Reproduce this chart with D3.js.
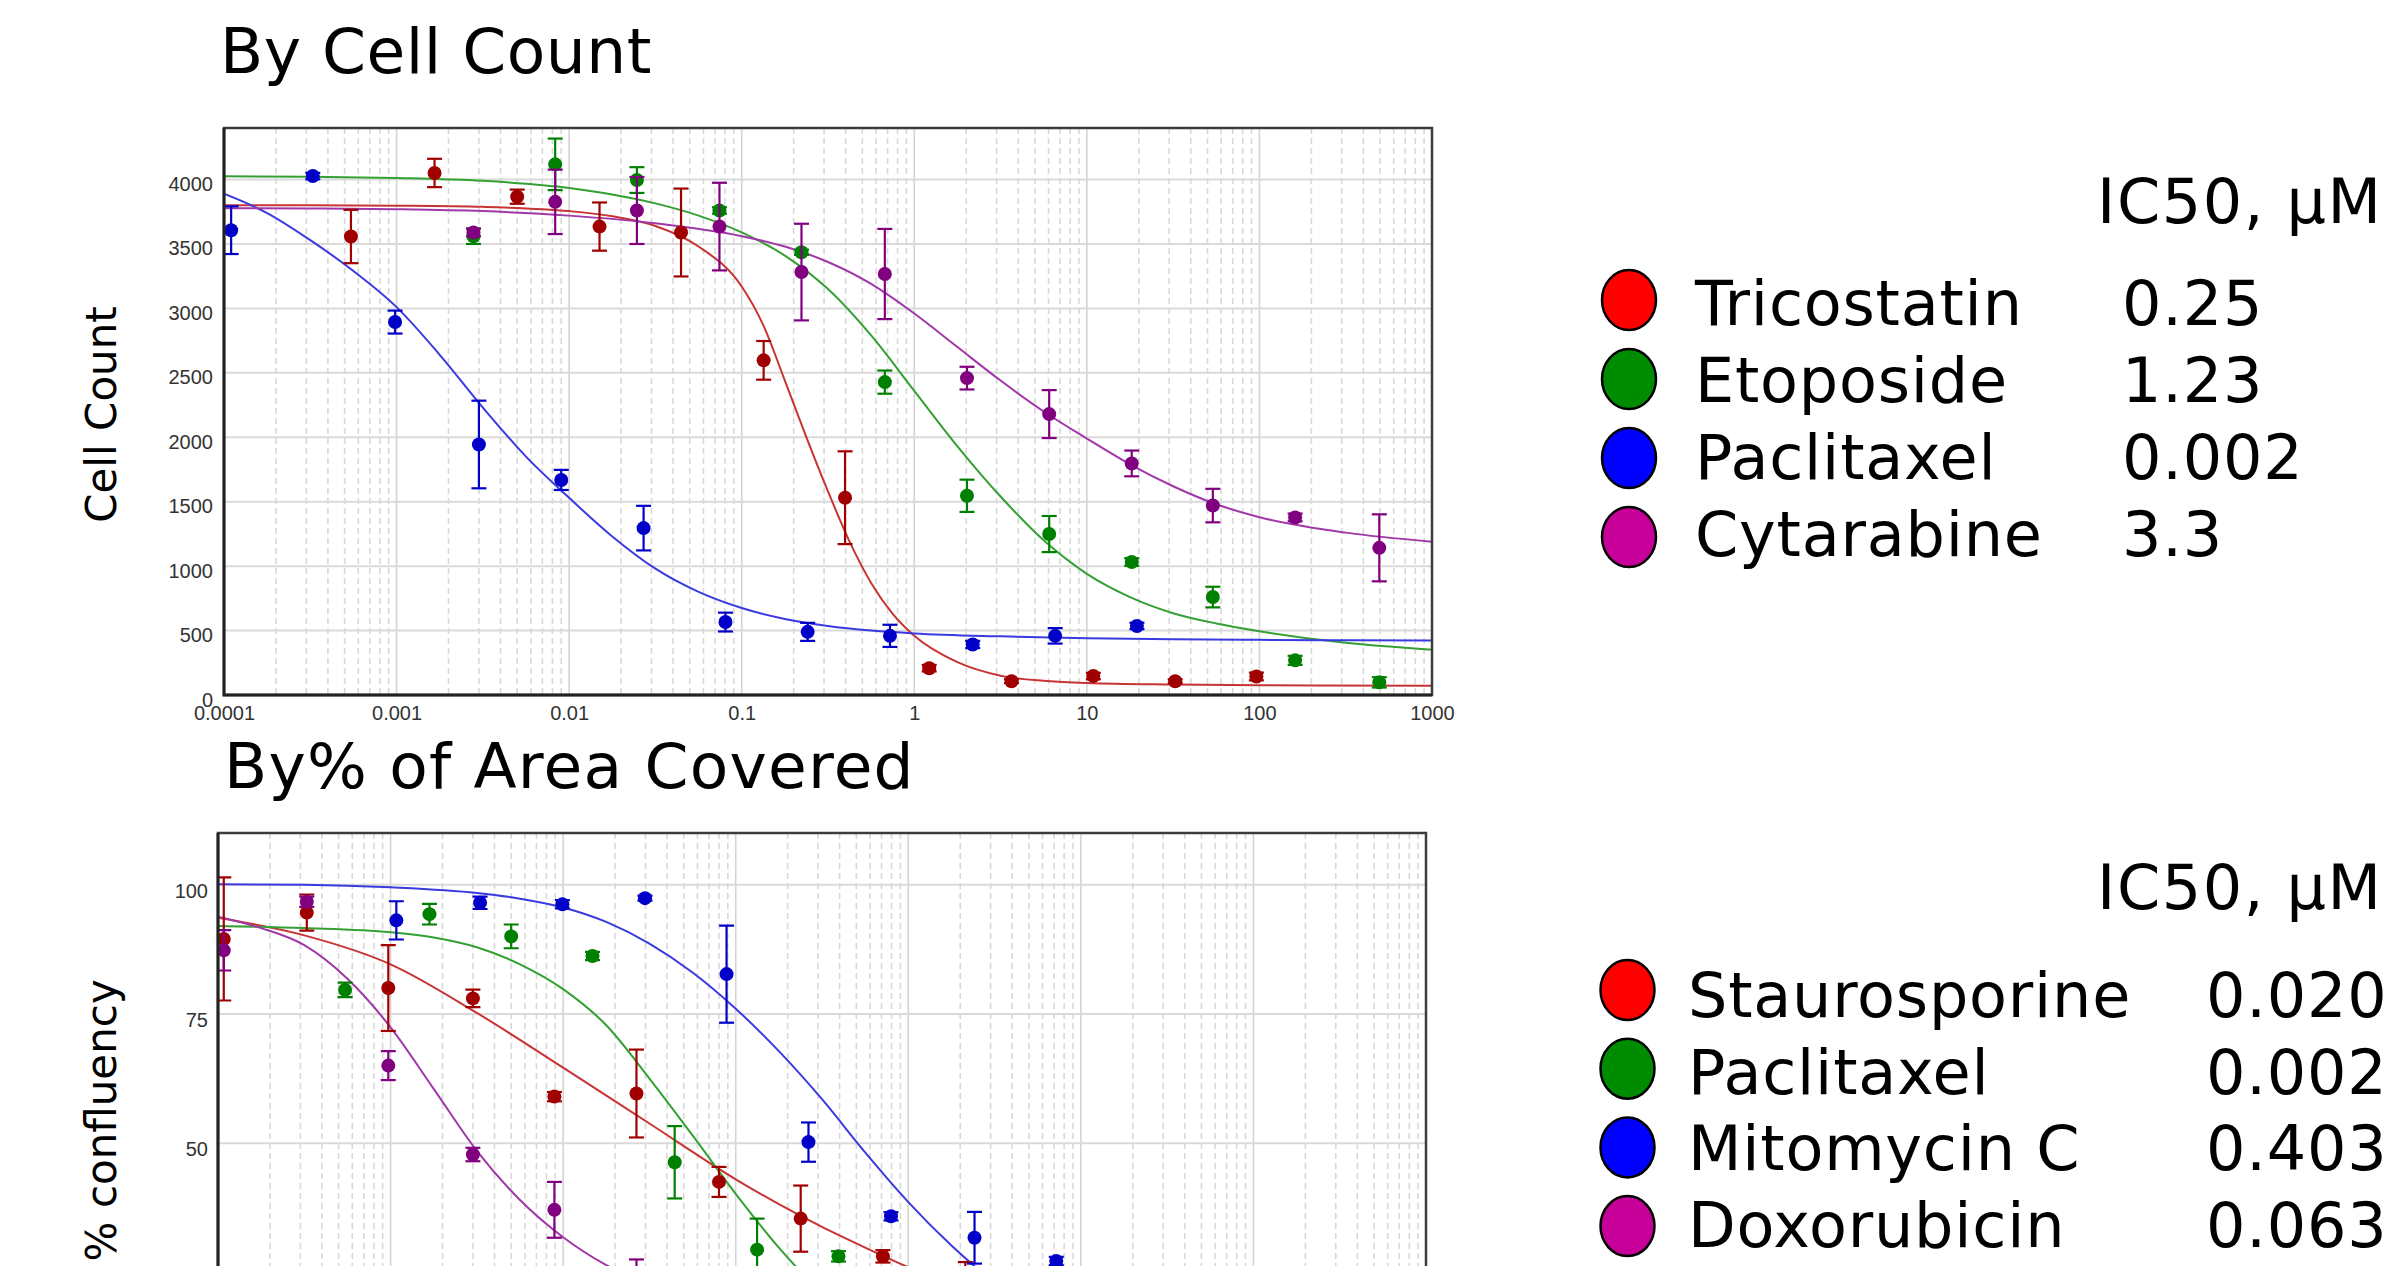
<!DOCTYPE html>
<html><head><meta charset="utf-8">
<script src="https://cdn.jsdelivr.net/npm/d3@7"></script>
<style>html,body{margin:0;padding:0;background:#fff;} svg{display:block}</style>
</head><body>
<svg id="c" width="2388" height="1266"></svg>
<script>
// ---------- shared ----------
const xTickValues = [1e-4, 1e-3, 1e-2, 1e-1, 1, 10, 100, 1000];
const xTickLabels = ["0.0001", "0.001", "0.01", "0.1", "1", "10", "100", "1000"];

// ---------- panel 1 : By Cell Count ----------
const cellTitle = "By Cell Count";
const cellAxisTitle = "Cell Count";
const cellTicks = [0, 500, 1000, 1500, 2000, 2500, 3000, 3500, 4000];
const cellDrugs = ["Tricostatin", "Etoposide", "Paclitaxel", "Cytarabine"];
const cellIC50 = ["0.25", "1.23", "0.002", "3.3"];

const tricDose = [5.44e-4, 1.66e-3, 5e-3, 0.015, 0.0445, 0.134, 0.397, 1.22, 3.66, 10.9, 32.5, 96];
const tricVal  = [3558, 4051, 3867, 3635, 3589, 2597, 1531, 208, 107, 147, 107, 144];
const tricErr  = [207, 110, 55, 187, 341, 150, 360, 25, 15, 25, 15, 30];
const tricFitLog = [-4,-3.5,-3,-2.5,-2,-1.75,-1.5,-1.25,-1,-0.875,-0.75,-0.625,-0.5,-0.375,-0.25,-0.125,0,0.25,0.5,0.75,1,1.5,2,3];
const tricFitVal = [3800,3800,3797,3788,3755,3715,3640,3480,3170,2870,2440,2000,1580,1190,870,630,460,255,150,110,94,82,76,72];

const etoDose = [0.00279, 0.0083, 0.0247, 0.0743, 0.222, 0.675, 2.02, 6.05, 18.2, 53.7, 161, 495];
const etoVal  = [3560, 4118, 3996, 3760, 3436, 2428, 1546, 1249, 1032, 760, 269, 98];
const etoErr  = [60, 200, 100, 25, 20, 90, 125, 140, 30, 80, 35, 40];
const etoFitLog = [-4,-3.5,-3,-2.5,-2,-1.5,-1.25,-1,-0.75,-0.5,-0.25,0,0.25,0.5,0.75,1,1.25,1.5,1.75,2,2.5,3];
const etoFitVal = [4025,4022,4012,3990,3935,3815,3720,3590,3410,3150,2790,2360,1930,1540,1200,940,760,635,555,495,405,352];

const pacDose = [1.1e-4, 3.27e-4, 9.8e-4, 0.003, 0.009, 0.027, 0.0805, 0.241, 0.723, 2.18, 6.55, 19.5];
const pacVal  = [3607, 4027, 2894, 1944, 1669, 1295, 566, 490, 459, 392, 459, 536];
const pacErr  = [185, 25, 89, 340, 78, 173, 73, 70, 86, 28, 60, 25];
const pacFitLog = [-4,-3.75,-3.5,-3.25,-3,-2.75,-2.5,-2.25,-2,-1.75,-1.5,-1.25,-1,-0.75,-0.5,-0.25,0,0.5,1,1.5,2,2.5,3];
const pacFitVal = [3890,3740,3530,3290,3010,2640,2230,1850,1530,1230,980,800,675,590,535,500,478,455,440,432,428,425,423];

const cytDose = [0.00279, 0.0083, 0.0247, 0.0743, 0.222, 0.675, 2.02, 6.05, 18.2, 53.7, 161, 495];
const cytVal  = [3589, 3827, 3760, 3635, 3282, 3267, 2459, 2180, 1797, 1470, 1378, 1142];
const cytErr  = [30, 250, 260, 340, 375, 350, 88, 186, 100, 130, 30, 260];
const cytFitLog = [-4,-3.5,-3,-2.5,-2,-1.5,-1,-0.75,-0.5,-0.25,0,0.25,0.5,0.75,1,1.25,1.5,1.75,2,2.5,3];
const cytFitVal = [3778,3776,3770,3755,3720,3660,3560,3480,3360,3190,2960,2700,2440,2200,1990,1790,1620,1480,1380,1260,1190];

// ---------- panel 2 : By % of Area Covered ----------
const areaTitle = "By% of Area Covered";
const areaAxisTitle = "% confluency";
const areaTicks = [0, 25, 50, 75, 100];
const areaDrugs = ["Staurosporine", "Paclitaxel", "Mitomycin C", "Doxorubicin"];
const areaIC50 = ["0.020", "0.002", "0.403", "0.063"];

const stauDose = [1.08e-4, 3.27e-4, 9.7e-4, 0.003, 0.0089, 0.0266, 0.08, 0.238, 0.713, 2.14];
const stauVal  = [89.5, 94.6, 80.0, 78.0, 59.0, 59.6, 42.5, 35.4, 28.1, 22.0];
const stauErr  = [11.9, 3.5, 8.3, 1.7, 0.9, 8.5, 2.9, 6.4, 1.2, 5.0];
const stauFitLog = [-4,-3.5,-3,-2.5,-2,-1.5,-1,-0.75,-0.5,-0.25,0,0.5,1,1.5,2,3];
const stauFitVal = [93.6,90.2,84.6,75.2,64.6,53.8,43.0,38.2,33.8,29.8,26.0,19.5,14.8,11.8,9.8,7.8];

const ptxDose = [5.45e-4, 1.68e-3, 0.005, 0.0148, 0.0443, 0.133, 0.394];
const ptxVal  = [79.65, 94.3, 90.0, 86.2, 46.3, 29.4, 28.1];
const ptxErr  = [1.4, 2.0, 2.3, 0.8, 7.0, 6.0, 1.0];
const ptxFitLog = [-4,-3.5,-3,-2.75,-2.5,-2.25,-2,-1.75,-1.5,-1.25,-1,-0.75,-0.5,-0.25,0,0.5,1,2,3];
const ptxFitVal = [92.0,91.6,90.8,89.8,87.9,84.6,79.8,72.8,62.5,51.5,40.2,29.8,21.0,14.5,10.0,5.5,3.5,2.5,2.2];

const mitoDose = [1.08e-3, 0.0033, 0.0099, 0.0298, 0.0885, 0.264, 0.794, 2.42, 7.2];
const mitoVal  = [93.1, 96.5, 96.2, 97.4, 82.7, 50.2, 35.85, 31.7, 27.2];
const mitoErr  = [3.7, 1.2, 0.8, 0.5, 9.4, 3.8, 0.8, 5.0, 0.8];
const mitoFitLog = [-4,-3.5,-3,-2.5,-2.25,-2,-1.75,-1.5,-1.25,-1,-0.75,-0.5,-0.25,0,0.25,0.5,0.75,1,1.5,2,3];
const mitoFitVal = [100.1,100.0,99.5,98.4,97.3,95.6,92.8,88.6,83.0,76.0,67.8,58.5,48.2,38.6,30.2,23.0,17.2,12.8,7.8,5.6,4.5];

const doxDose = [1.08e-4, 3.27e-4, 9.7e-4, 0.003, 0.0089, 0.0266];
const doxVal  = [87.3, 96.7, 65.0, 47.8, 37.1, 22.0];
const doxErr  = [3.9, 1.0, 2.8, 1.3, 5.4, 5.5];
const doxFitLog = [-4,-3.75,-3.5,-3.25,-3,-2.75,-2.5,-2.25,-2,-1.75,-1.5,-1.25,-1,-0.5,0,1,2,3];
const doxFitVal = [93.8,91.6,88.3,81.8,72.4,60.5,48.5,39.0,31.8,26.4,22.5,19.8,17.8,15.2,13.8,12.6,12.2,12.0];

// ---------- styles ----------
const markerColors = ["#a00000", "#008000", "#0000c8", "#800080"];
const lineColors   = ["#c83434", "#34a034", "#3a3ae0", "#a038a8"];
const legendColors = ["#ff0000", "#008c00", "#0000ff", "#c8009a"];
const TEXT_FONT = "'DejaVu Sans', Verdana, sans-serif";
const TICK_FONT = "'Liberation Sans', Arial, sans-serif";

const svg = d3.select("#c");

function drawPanel(o) {
  const g = svg.append("g");
  const x = d3.scaleLog().domain([1e-4, 1e3]).range([o.left, o.right]);
  const y = d3.scaleLinear().domain([0, o.yMax]).range([o.yZero, o.top]);
  const id = "clip" + o.key;
  svg.append("defs").append("clipPath").attr("id", id)
    .append("rect").attr("x", o.left).attr("y", o.top)
    .attr("width", o.right - o.left).attr("height", o.yZero - o.top);

  const isMajor = d => Math.abs(Math.log10(d) - Math.round(Math.log10(d))) < 1e-9;
  // vertical grid
  g.append("g").selectAll("line").data(x.ticks()).join("line")
    .attr("x1", d => x(d)).attr("x2", d => x(d))
    .attr("y1", o.top).attr("y2", o.yZero)
    .attr("stroke", d => isMajor(d) ? "#d4d4d4" : "#d8d8d8")
    .attr("stroke-width", 1.6)
    .attr("stroke-dasharray", d => isMajor(d) ? null : "6,4");
  // horizontal grid
  g.append("g").selectAll("line").data(o.ticks).join("line")
    .attr("x1", o.left).attr("x2", o.right)
    .attr("y1", d => y(d)).attr("y2", d => y(d))
    .attr("stroke", "#dadada").attr("stroke-width", 2);

  // fitted curves
  const line = d3.line().x(d => x(Math.pow(10, d[0]))).y(d => y(d[1])).curve(d3.curveMonotoneX);
  const cg = g.append("g").attr("clip-path", `url(#${id})`);
  o.series.forEach((s, i) => {
    cg.append("path").datum(d3.zip(s.fitLog, s.fitVal))
      .attr("d", line).attr("fill", "none")
      .attr("stroke", lineColors[i]).attr("stroke-width", 2);
  });

  // points + error bars
  o.series.forEach((s, i) => {
    const pts = d3.zip(s.dose, s.val, s.err);
    const sg = cg.append("g").attr("stroke", markerColors[i]).attr("fill", markerColors[i]);
    sg.selectAll("line.eb").data(pts).join("line").attr("class", "eb")
      .attr("x1", d => x(d[0])).attr("x2", d => x(d[0]))
      .attr("y1", d => y(d[1] - d[2])).attr("y2", d => y(d[1] + d[2]))
      .attr("stroke-width", 2.2);
    sg.selectAll("line.ct").data(pts).join("line").attr("class", "ct")
      .attr("x1", d => x(d[0]) - 7.5).attr("x2", d => x(d[0]) + 7.5)
      .attr("y1", d => y(d[1] + d[2])).attr("y2", d => y(d[1] + d[2]))
      .attr("stroke-width", 2.2);
    sg.selectAll("line.cb").data(pts).join("line").attr("class", "cb")
      .attr("x1", d => x(d[0]) - 7.5).attr("x2", d => x(d[0]) + 7.5)
      .attr("y1", d => y(d[1] - d[2])).attr("y2", d => y(d[1] - d[2]))
      .attr("stroke-width", 2.2);
    sg.selectAll("circle").data(pts).join("circle")
      .attr("cx", d => x(d[0])).attr("cy", d => y(d[1])).attr("r", 7)
      .attr("stroke", "none");
  });

  // frame
  g.append("rect").attr("x", o.left).attr("y", o.top)
    .attr("width", o.right - o.left).attr("height", o.yZero - o.top)
    .attr("fill", "none").attr("stroke", "#3c3c3c").attr("stroke-width", 2.5);
  g.append("path")
    .attr("d", `M${o.left},${o.top}V${o.yZero}H${o.right}`)
    .attr("fill", "none").attr("stroke", "#222").attr("stroke-width", 3);

  // axes labels
  const ya = g.append("g").attr("transform", `translate(${o.left},0)`)
    .call(d3.axisLeft(y).tickValues(o.ticks).tickFormat(d3.format("d")).tickSize(0).tickPadding(o.yPad));
  ya.select(".domain").remove();
  ya.selectAll("text").attr("dy", o.yDy).attr("font-family", TICK_FONT)
    .attr("font-size", 20).attr("fill", "#333");

  const xa = g.append("g").attr("transform", `translate(0,${o.yZero})`)
    .call(d3.axisBottom(x).tickValues(xTickValues).tickFormat((d, i) => xTickLabels[i]).tickSize(0).tickPadding(11));
  xa.select(".domain").remove();
  xa.selectAll("text").attr("font-family", TICK_FONT).attr("font-size", 20).attr("fill", "#333");

  // titles
  svg.append("text").attr("x", o.titleX).attr("y", o.titleY)
    .attr("font-family", TEXT_FONT).attr("font-size", 63).attr("letter-spacing", o.titleLs)
    .attr("fill", "#000").text(o.title);
  svg.append("text")
    .attr("transform", `translate(116,${(o.top + o.yZero) / 2 + 3}) rotate(-90)`)
    .attr("text-anchor", "middle")
    .attr("font-family", TEXT_FONT).attr("font-size", 42).attr("fill", "#000")
    .text(o.axisTitle);

  // legend
  const lg = svg.append("g").attr("font-family", TEXT_FONT).attr("font-size", 62)
    .attr("letter-spacing", 0.8).attr("fill", "#000");
  lg.append("text").attr("x", 2097).attr("y", o.legHeadY).attr("letter-spacing", 1.6).text("IC50, \u00B5M");
  o.names.forEach((n, i) => {
    lg.append("ellipse").attr("cx", o.legCx).attr("cy", o.legCy + i * o.legDy)
      .attr("rx", 27).attr("ry", 30)
      .attr("fill", legendColors[i]).attr("stroke", "#000").attr("stroke-width", 2.5);
    lg.append("text").attr("x", o.legTx).attr("y", o.legTy + i * o.legTdy).text(n);
    lg.append("text").attr("x", o.legVx).attr("y", o.legTy + i * o.legTdy).text(o.ic50[i]);
  });
}

drawPanel({
  key: 1, left: 224, right: 1432, top: 128, yZero: 695, yMax: 4400, ticks: cellTicks,
  yPad: 11, yDy: "0.55em",
  title: cellTitle, titleX: 220, titleY: 73, titleLs: 0.5, axisTitle: cellAxisTitle,
  names: cellDrugs, ic50: cellIC50,
  legHeadY: 223, legCx: 1629, legCy: 300, legDy: 79, legTx: 1695, legTy: 325, legTdy: 77, legVx: 2122,
  series: [
    {dose: tricDose, val: tricVal, err: tricErr, fitLog: tricFitLog, fitVal: tricFitVal},
    {dose: etoDose, val: etoVal, err: etoErr, fitLog: etoFitLog, fitVal: etoFitVal},
    {dose: pacDose, val: pacVal, err: pacErr, fitLog: pacFitLog, fitVal: pacFitVal},
    {dose: cytDose, val: cytVal, err: cytErr, fitLog: cytFitLog, fitVal: cytFitVal}
  ]
});

drawPanel({
  key: 2, left: 218, right: 1426, top: 833, yZero: 1401.6, yMax: 110, ticks: areaTicks,
  yPad: 10, yDy: "0.62em",
  title: areaTitle, titleX: 224, titleY: 788, titleLs: 1.2, axisTitle: areaAxisTitle,
  names: areaDrugs, ic50: areaIC50,
  legHeadY: 909, legCx: 1627.5, legCy: 990, legDy: 78.7, legTx: 1688, legTy: 1016.7, legTdy: 76.8, legVx: 2206,
  series: [
    {dose: stauDose, val: stauVal, err: stauErr, fitLog: stauFitLog, fitVal: stauFitVal},
    {dose: ptxDose, val: ptxVal, err: ptxErr, fitLog: ptxFitLog, fitVal: ptxFitVal},
    {dose: mitoDose, val: mitoVal, err: mitoErr, fitLog: mitoFitLog, fitVal: mitoFitVal},
    {dose: doxDose, val: doxVal, err: doxErr, fitLog: doxFitLog, fitVal: doxFitVal}
  ]
});
</script>
</body></html>
